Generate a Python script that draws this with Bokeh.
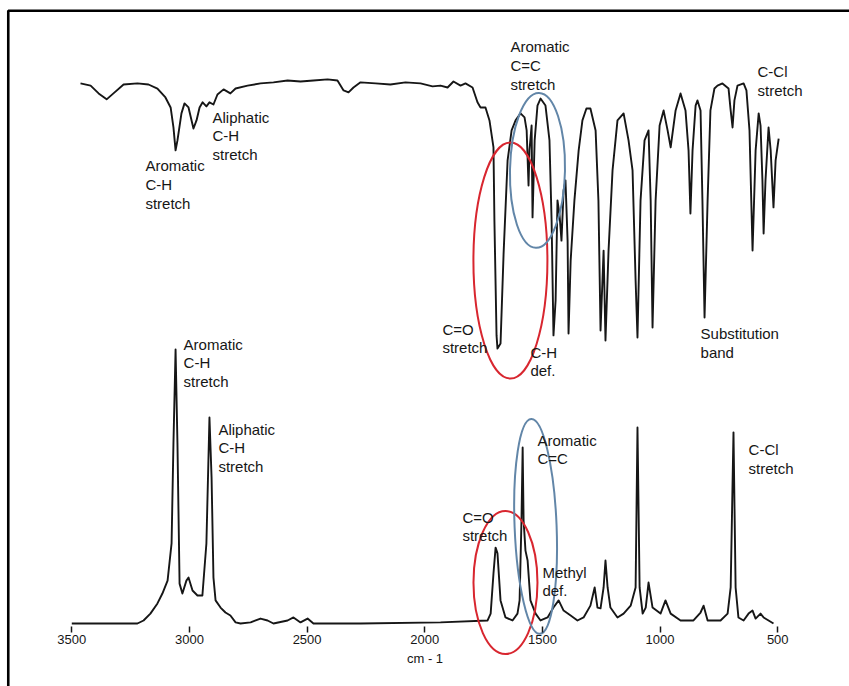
from bokeh.plotting import figure
from bokeh.models import Range1d, LinearAxis, FixedTicker
from bokeh.core.properties import value
from bokeh.embed import file_html
from bokeh.resources import INLINE

# Infrared transmission spectrum (upper trace): wavenumber in cm-1, transmittance in %
ir_wavenumber = [
    3463, 3420, 3386, 3352, 3323, 3280, 3221, 3174, 3136, 3102, 3080, 3068, 3059, 3051,
    3034, 3021, 3004, 2983, 2970, 2957, 2944, 2928, 2915, 2898, 2881, 2855, 2826, 2804,
    2753, 2698, 2643, 2583, 2528, 2473, 2413, 2371, 2345, 2324, 2303, 2273, 2209, 2146,
    2082, 2018, 1967, 1933, 1903, 1878, 1848, 1827, 1797, 1776, 1763, 1742, 1725, 1708,
    1704, 1695, 1691, 1678, 1665, 1648, 1631, 1614, 1593, 1576, 1567, 1559, 1555, 1546,
    1542, 1533, 1521, 1508, 1487, 1470, 1461, 1453, 1444, 1436, 1427, 1419, 1410, 1402,
    1393, 1389, 1380, 1364, 1346, 1330, 1313, 1296, 1274, 1262, 1253, 1240, 1232, 1219,
    1202, 1181, 1155, 1134, 1117, 1104, 1096, 1083, 1066, 1049, 1040, 1032, 1019, 1002,
    985, 968, 955, 934, 913, 892, 879, 871, 862, 849, 841, 828, 820, 811, 798, 786,
    769, 756, 735, 709, 700, 692, 684, 671, 645, 633, 620, 607, 594, 581, 573, 565,
    560, 552, 539, 530, 518, 509, 496,
]
ir_transmittance = [
    98.9, 98.1, 95.2, 93.0, 95.2, 98.5, 98.9, 98.5, 97.0, 93.7, 90.0, 82.6, 74.1, 77.8,
    87.8, 91.5, 90.0, 82.2, 85.2, 90.0, 91.9, 90.4, 91.9, 91.1, 94.8, 96.7, 95.2, 97.0,
    98.1, 98.9, 99.3, 100.0, 99.6, 100.0, 100.4, 100.0, 96.3, 95.6, 97.4, 99.3, 98.9, 98.5,
    99.3, 98.9, 97.8, 98.1, 97.4, 99.6, 98.1, 98.9, 97.4, 91.9, 90.0, 90.0, 85.2, 75.2,
    48.1, 5.6, 0.7, 2.6, 35.9, 70.4, 81.5, 85.2, 87.8, 86.3, 81.5, 61.1, 74.1, 83.3,
    49.3, 77.8, 90.7, 93.3, 90.7, 77.8, 48.1, 5.6, 18.5, 55.6, 50.0, 40.7, 59.3, 63.0,
    40.7, 6.3, 33.3, 55.6, 74.1, 85.2, 89.6, 89.6, 81.5, 55.6, 7.4, 37.0, 3.7, 37.0,
    66.7, 85.2, 87.8, 77.8, 66.7, 25.9, 4.8, 55.6, 77.8, 81.5, 55.6, 8.5, 55.6, 83.3,
    88.9, 81.5, 75.2, 88.9, 95.2, 88.9, 74.1, 50.7, 74.1, 90.7, 92.6, 88.9, 55.6, 12.2,
    55.6, 88.9, 97.0, 98.1, 98.9, 97.0, 88.9, 82.6, 92.6, 98.1, 98.9, 96.3, 81.5, 37.0,
    74.1, 87.8, 83.3, 63.0, 43.3, 63.0, 82.6, 74.1, 53.0, 70.4, 78.5,
]

# Raman spectrum (lower trace): wavenumber shift in cm-1, relative intensity
raman_wavenumber = [
    3500, 3221, 3195, 3166, 3136, 3115, 3093, 3076, 3068, 3059, 3051, 3042, 3030, 3013,
    3004, 2987, 2966, 2945, 2928, 2915, 2906, 2898, 2889, 2868, 2847, 2826, 2804, 2783,
    2740, 2698, 2668, 2643, 2583, 2558, 2528, 2498, 2473, 2273, 1933, 1733, 1720, 1708,
    1699, 1691, 1678, 1657, 1627, 1606, 1597, 1589, 1584, 1580, 1572, 1563, 1551, 1529,
    1508, 1478, 1453, 1431, 1410, 1380, 1351, 1325, 1296, 1278, 1266, 1253, 1240, 1232,
    1223, 1211, 1181, 1155, 1125, 1104, 1096, 1087, 1074, 1061, 1049, 1032, 998, 977,
    955, 913, 858, 828, 815, 798, 743, 713, 700, 688, 679, 667, 645, 624, 607, 594,
    573, 560, 539, 518,
]
raman_intensity = [
    0.0, 0.0, 1.1, 3.6, 7.3, 10.9, 15.6, 29.1, 65.5, 99.6, 65.5, 14.5, 10.9, 15.6,
    16.7, 12.0, 10.2, 10.2, 29.1, 74.9, 53.1, 16.7, 8.4, 5.8, 4.0, 2.9, 0.4, 0.0,
    0.4, 1.8, 1.1, 0.0, 1.1, 2.2, 0.4, 1.8, 0.0, 0.0, 0.4, 1.1, 3.6, 18.2,
    27.6, 25.5, 8.4, 2.2, 1.1, 3.6, 8.4, 37.5, 64.0, 37.5, 26.5, 22.9, 8.4, 3.6,
    1.1, 2.2, 5.8, 8.4, 4.7, 2.9, 1.1, 2.2, 6.5, 13.1, 5.8, 5.5, 13.1, 22.9,
    13.1, 5.8, 2.2, 3.6, 6.5, 13.1, 71.3, 13.1, 3.6, 5.8, 14.9, 5.8, 3.6, 8.4,
    3.6, 1.1, 1.1, 4.0, 6.5, 1.1, 1.1, 3.6, 13.1, 69.5, 13.1, 2.2, 1.1, 3.6, 4.7, 1.8,
    3.6, 2.2, 1.1, 0.0,
]

tick_values = [3500, 3000, 2500, 2000, 1500, 1000, 500]
tick_labels = ["3500", "3000", "2500", "2000", "1500", "1000", "500"]
x_axis_title = "cm - 1"

# Band assignments for each trace (anchored at the top-left of the text block)
ir_label_text = ["Aromatic\nC-H\nstretch", "Aliphatic\nC-H\nstretch", "Aromatic\nC=C\nstretch",
                 "C-Cl\nstretch", "C=O\nstretch", "C-H\ndef.", "Substitution\nband"]
ir_label_wn = [3187, 2902, 1636, 586, 1925, 1551, 828]
ir_label_t = [71.5, 89.6, 115.6, 106.3, 11.1, 2.6, 9.3]

raman_label_text = ["Aromatic\nC-H\nstretch", "Aliphatic\nC-H\nstretch", "Aromatic\nC=C",
                    "C-Cl\nstretch", "C=O\nstretch", "Methyl\ndef."]
raman_label_wn = [3025, 2877, 1521, 624, 1840, 1500]
raman_label_i = [104.7, 73.8, 69.8, 66.2, 41.8, 21.8]

# Rings highlighting the C=O and aromatic C=C regions
ir_ring_wn = [1636, 1521]
ir_ring_t = [33.3, 66.7]
ir_ring_w = [74, 55]
ir_ring_h = [236, 155]
ir_ring_angle = [0.0, -0.02]
raman_ring_wn = [1657, 1529]
raman_ring_i = [14.9, 35.3]
raman_ring_w = [64, 42]
raman_ring_h = [143, 215]
raman_ring_angle = [0.0, 0.04]
ring_colors = ["#d8262f", "#6286a8"]

W, H = 849, 686
FONT = value("Liberation Sans")
INK = "#161616"

p = figure(width=W, height=H, output_backend="svg", toolbar_location=None,
           x_axis_type=None, y_axis_type=None,
           x_range=Range1d(3803, 195), y_range=Range1d(-22.9, 226.5),
           min_border=0, background_fill_color="white", border_fill_color="white")
p.extra_y_ranges = {"ir": Range1d(-124.4, 129.6)}
p.outline_line_color = None
p.grid.visible = False

# page frame along the top and left
p.line([3770, 3770, 100], [-40, 222.8, 222.8], line_color="#000000", line_width=2.6)

# spectra
p.line(ir_wavenumber, ir_transmittance, y_range_name="ir", line_color=INK,
       line_width=1.9, line_join="round")
p.line(raman_wavenumber, raman_intensity, line_color=INK, line_width=1.9, line_join="round")

# highlight rings
p.ellipse(x=ir_ring_wn, y=ir_ring_t, width=ir_ring_w, height=ir_ring_h, angle=ir_ring_angle,
          width_units="screen", height_units="screen", y_range_name="ir",
          fill_color=None, line_color=ring_colors, line_width=2)
p.ellipse(x=raman_ring_wn, y=raman_ring_i, width=raman_ring_w, height=raman_ring_h,
          angle=raman_ring_angle, width_units="screen", height_units="screen",
          fill_color=None, line_color=ring_colors, line_width=2)

# band labels
p.text(x=ir_label_wn, y=ir_label_t, text=ir_label_text, y_range_name="ir",
       text_font=FONT, text_font_size="15px", text_color=INK,
       text_align="left", text_baseline="top", text_line_height=1.1)
p.text(x=raman_label_wn, y=raman_label_i, text=raman_label_text,
       text_font=FONT, text_font_size="15px", text_color=INK,
       text_align="left", text_baseline="top", text_line_height=1.1)

# wavenumber axis drawn just under the Raman baseline
xaxis = LinearAxis(fixed_location=-1.0, ticker=FixedTicker(ticks=tick_values),
                   axis_label=x_axis_title)
xaxis.major_label_overrides = {v: s for v, s in zip(tick_values, tick_labels)}
xaxis.axis_line_color = None
xaxis.major_tick_in = 0
xaxis.major_tick_out = 6
xaxis.major_tick_line_color = INK
xaxis.major_tick_line_width = 1.5
xaxis.minor_tick_line_color = None
xaxis.major_label_standoff = 3
xaxis.major_label_text_font = "Liberation Sans"
xaxis.major_label_text_font_size = "13px"
xaxis.major_label_text_color = INK
xaxis.axis_label_text_font = "Liberation Sans"
xaxis.axis_label_text_font_size = "13px"
xaxis.axis_label_text_font_style = "normal"
xaxis.axis_label_text_color = INK
xaxis.axis_label_standoff = 3
p.add_layout(xaxis, "below")

open("out.html", "w").write(file_html(p, INLINE))
